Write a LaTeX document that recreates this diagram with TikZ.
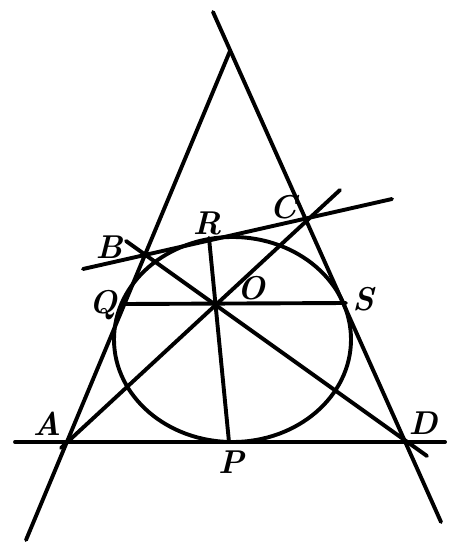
\documentclass[tikz,border=0pt]{standalone}
\begin{document}
\begin{tikzpicture}[x=1pt,y=-1pt,
  ln/.style={line width=3.9pt,line cap=round},
  lbl/.style={font=\fontsize{33}{36}\selectfont\bfseries\itshape,inner sep=0pt}]
\useasboundingbox (0,0) rectangle (468,554);
% points
\coordinate (A) at (67,442);
\coordinate (B) at (145,254);
\coordinate (C) at (307,219);
\coordinate (D) at (406,442);
\coordinate (O) at (215,305);
\coordinate (P) at (229,442);
\coordinate (Q) at (124,304);
\coordinate (R) at (209,238);
\coordinate (S) at (346,303);
\coordinate (T) at (230,51);
\coordinate (L1) at (26,540);
\coordinate (Rtop) at (213,12);
\coordinate (Rbot) at (441,522);
\coordinate (BC1) at (83,269);
\coordinate (BC2) at (392,199);
\coordinate (H1) at (15,442);
\coordinate (H2) at (445,442);
\coordinate (BD1) at (126,241);
\coordinate (BD2) at (427,456);
\coordinate (AC1) at (61,448);
\coordinate (AC2) at (340,190);
% circle
\draw[ln] (232.5,339.5) ellipse [x radius=118.5, y radius=102.5];
% lines
\draw[ln] (T) -- (L1);
\draw[ln] (Rtop) -- (Rbot);
\draw[ln] (BC1) -- (BC2);
\draw[ln] (H1) -- (H2);
\draw[ln] (BD1) -- (BD2);
\draw[ln] (AC1) -- (AC2);
\draw[ln] (Q) -- (S);
\draw[ln] (R) -- (P);
% labels
\node[lbl] (lA) at (47,424) {A};
\node[lbl] (lB) at (109,247) {B};
\node[lbl] (lR) at (207,223) {R};
\node[lbl] (lC) at (283,207) {C};
\node[lbl] (lO) at (251,288) {O};
\node[lbl] (lQ) at (103,305) {Q};
\node[lbl] (lS) at (363,299) {S};
\node[lbl] (lD) at (423,423) {D};
\node[lbl] (lP) at (231,462) {P};
\end{tikzpicture}
\end{document}
